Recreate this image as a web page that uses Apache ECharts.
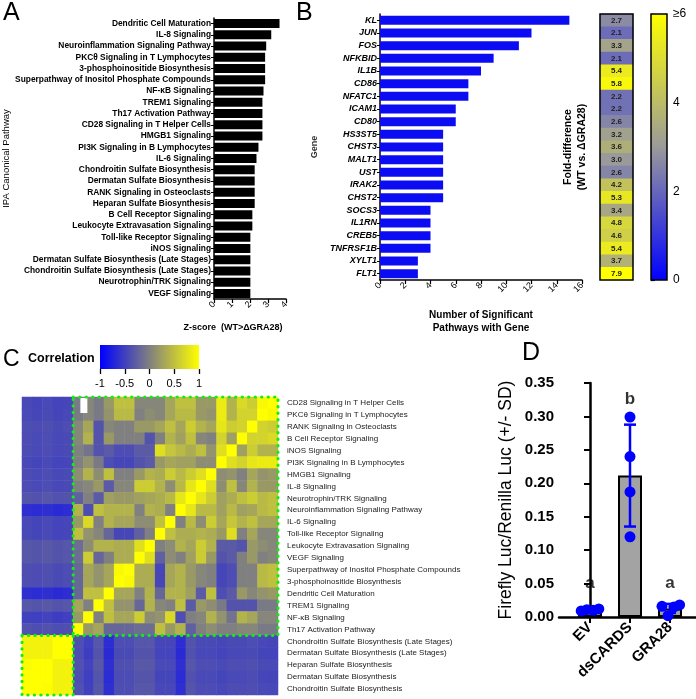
<!DOCTYPE html>
<html><head><meta charset="utf-8">
<script src="https://cdn.jsdelivr.net/npm/echarts@6/dist/echarts.min.js"></script>
<style>html,body{margin:0;padding:0;background:#fff}#c{width:696px;height:699px}</style>
</head><body><div id="c"></div>
<script>
// ---------- DATA ----------
const pathwaysA = ['Dendritic Cell Maturation','IL-8 Signaling','Neuroinflammation Signaling Pathway','PKCθ Signaling in T Lymphocytes','3-phosphoinositide Biosynthesis','Superpathway of Inositol Phosphate Compounds','NF-κB Signaling','TREM1 Signaling','Th17 Activation Pathway','CD28 Signaling in T Helper Cells','HMGB1 Signaling','PI3K Signaling in B Lymphocytes','IL-6 Signaling','Chondroitin Sulfate Biosynthesis','Dermatan Sulfate Biosynthesis','RANK Signaling in Osteoclasts','Heparan Sulfate Biosynthesis','B Cell Receptor Signaling','Leukocyte Extravasation Signaling','Toll-like Receptor Signaling','iNOS Signaling','Dermatan Sulfate Biosynthesis (Late Stages)','Chondroitin Sulfate Biosynthesis (Late Stages)','Neurotrophin/TRK Signaling','VEGF Signaling'];
const zScores = [3.64,3.18,2.90,2.84,2.84,2.84,2.75,2.69,2.69,2.69,2.69,2.47,2.36,2.26,2.26,2.26,2.26,2.13,2.13,2.02,2.02,2.02,2.02,2.02,2.02];

const genes = ['KL','JUN','FOS','NFKBID','IL1B','CD86','NFATC1','ICAM1','CD80','HS3ST5','CHST3','MALT1','UST','IRAK2','CHST2','SOCS3','IL1RN','CREB5','TNFRSF1B','XYLT1','FLT1'];
const geneCounts = [15,12,11,9,8,7,7,6,6,5,5,5,5,5,5,4,4,4,4,3,3];
const foldDiff = [2.7,2.1,3.3,2.1,5.4,5.8,2.2,2.2,2.6,3.2,3.6,3.0,2.6,4.2,5.3,3.4,4.8,4.6,5.4,3.7,7.9];

const corrPathways = ['CD28 Signaling in T Helper Cells','PKCθ Signaling in T Lymphocytes','RANK Signaling in Osteoclasts','B Cell Receptor Signaling','iNOS Signaling','PI3K Signaling in B Lymphocytes','HMGB1 Signaling','IL-8 Signaling','Neurotrophin/TRK Signaling','Neuroinflammation Signaling Pathway','IL-6 Signaling','Toll-like Receptor Signaling','Leukocyte Extravasation Signaling','VEGF Signaling','Superpathway of Inositol Phosphate Compounds','3-phosphoinositide Biosynthesis','Dendritic Cell Maturation','TREM1 Signaling','NF-κB Signaling','Th17 Activation Pathway','Chondroitin Sulfate Biosynthesis (Late Stages)','Dermatan Sulfate Biosynthesis (Late Stages)','Heparan Sulfate Biosynthesis','Dermatan Sulfate Biosynthesis','Chondroitin Sulfate Biosynthesis'];
// upper triangle: corrUpper[i] = correlations of pathway i with pathways i+1 .. 24
const corrUpper = [
 [0.95,0.6,0.7,0.4,0.85,0.2,0.2,0.5,0.5,0.3,0.05,0.05,0.05,0.5,0.5,0.2,-0.05,0.05,-0.05,-0.45,-0.47,-0.43,-0.46,-0.44],
 [0.65,0.65,0.4,0.85,0.15,0.2,0.45,0.45,0.3,0.05,0.1,0.0,0.45,0.45,0.15,-0.05,0.05,-0.05,-0.44,-0.46,-0.42,-0.45,-0.43],
 [0.65,0.6,0.8,0.3,0.4,0.6,0.3,0.5,0.3,0.2,0.2,0.0,0.0,0.05,-0.35,0.3,0.05,-0.4,-0.42,-0.38,-0.41,-0.39],
 [0.25,0.65,0.0,0.05,0.5,0.25,0.4,0.0,-0.35,0.0,0.0,0.0,0.2,-0.35,0.4,0.05,-0.42,-0.44,-0.4,-0.43,-0.41],
 [0.75,0.15,0.5,0.35,0.45,0.55,0.75,-0.3,-0.3,-0.4,-0.4,-0.3,-0.35,-0.1,0.0,-0.42,-0.44,-0.4,-0.43,-0.41],
 [0.1,0.1,0.25,0.25,0.3,0.2,-0.3,-0.35,-0.45,-0.45,-0.4,-0.05,0.15,0.0,-0.45,-0.47,-0.43,-0.46,-0.44],
 [0.75,0.6,0.45,0.6,0.35,0.4,0.2,0.0,0.0,0.5,0.1,0.4,0.1,-0.42,-0.44,-0.4,-0.43,-0.41],
 [0.8,0.45,0.1,0.4,0.6,0.6,0.05,0.05,-0.3,0.2,0.05,0.0,-0.42,-0.44,-0.4,-0.43,-0.41],
 [0.8,0.45,0.35,0.3,0.25,0.2,0.2,0.25,-0.3,0.0,-0.25,-0.35,-0.37,-0.33,-0.36,-0.34],
 [0.0,0.35,0.4,0.0,0.4,0.4,0.4,0.5,-0.4,0.4,-0.65,-0.67,-0.63,-0.66,-0.64],
 [0.5,0.1,0.1,0.3,0.3,0.4,0.0,0.7,0.2,-0.45,-0.47,-0.43,-0.46,-0.44],
 [0.0,-0.25,-0.45,-0.45,-0.2,0.05,0.15,0.5,-0.45,-0.47,-0.43,-0.46,-0.44],
 [0.75,0.35,0.35,0.4,0.4,0.1,-0.15,-0.33,-0.35,-0.31,-0.34,-0.32],
 [0.35,0.35,0.0,-0.2,0.6,-0.15,-0.33,-0.35,-0.31,-0.34,-0.32],
 [0.95,0.3,0.15,0.3,-0.2,-0.4,-0.42,-0.38,-0.41,-0.39],
 [0.3,0.15,0.3,-0.2,-0.4,-0.42,-0.38,-0.41,-0.39],
 [0.5,0.5,-0.2,-0.65,-0.67,-0.63,-0.66,-0.64],
 [0.0,0.3,-0.33,-0.35,-0.31,-0.34,-0.32],
 [0.2,-0.5,-0.52,-0.48,-0.51,-0.49],
 [-0.38,-0.4,-0.36,-0.39,-0.37],
 [1.0,0.9,0.9,0.9],
 [0.9,0.9,0.9],
 [1.0,0.98],
 [1.0],
 []
];
const corrTicks = [-1,-0.5,0,0.5,1];

const groupsD = ['EV','dsCARDS','GRA28'];
const meansD = [0.0105,0.2115,0.0128];
const sdD = [0.0013,0.0762,0.0068];
const dotsD = [[0.009,0.011,0.010,0.012],[0.299,0.240,0.187,0.120],[0.016,0.002,0.015,0.018]];
const lettersD = ['a','b','a'];
const letterYD = [0.051,0.325,0.051];

// ---------- LAYOUT / STYLE ----------
const FONT = '"Liberation Sans", Arial, sans-serif';
const K = '#000';
const G = {
  A:{left:214,top:18,width:72,height:281},
  B:{left:380,top:14,width:202,height:266},
  BH:{left:600,top:14,width:33,height:266},
  BC:{left:651,top:14,width:16,height:266},
  C:{left:22,top:397,width:256,height:298},
  CC:{left:100,top:345,width:99,height:24},
  D:{left:559,top:383,width:137,height:234}
};
const dotJitter = [[-0.22,-0.08,0.08,0.22],[0,0,0,0],[-0.2,-0.05,0.1,0.24]];

const N = corrPathways.length;
const M = [];
for (let i=0;i<N;i++){ M.push(new Array(N).fill(0)); M[i][i]=1; }
for (let i=0;i<N;i++) corrUpper[i].forEach((v,t)=>{ const k=i+1+t; M[i][k]=v; M[k][i]=v; });
const colNames = corrPathways.slice().reverse();
const corrData = [];
for (let i=0;i<N;i++) for (let j=0;j<N;j++) corrData.push([j,i,M[i][N-1-j]]);

const gridList = ['A','B','BH','BC','C','CC','D'].map(k=>Object.assign({outerBoundsMode:'none',containLabel:false,show:false},G[k]));
const ax = (o)=>Object.assign({splitLine:{show:false}},o);
const line = (w)=>({show:true,lineStyle:{color:K,width:w}});

const chart = echarts.init(document.getElementById('c'),null,{renderer:'canvas'});
chart.setOption({
  animation:false,
  backgroundColor:'#fff',
  textStyle:{fontFamily:FONT},
  grid:gridList,
  xAxis:[
    ax({gridIndex:0,type:'value',min:0,max:4,interval:1,axisLine:line(1.5),axisTick:{show:true,length:4,lineStyle:{color:K,width:1.2}},
       axisLabel:{rotate:45,fontSize:9,color:K,margin:4,fontFamily:FONT},
       name:'Z-score  (WT>ΔGRA28)',nameLocation:'middle',nameGap:24,nameTextStyle:{fontSize:9,fontWeight:'bold',color:K,fontFamily:FONT,padding:[0,34,0,0]}}),
    ax({gridIndex:1,type:'value',min:0,max:16,interval:2,axisLine:line(1.5),axisTick:{show:true,length:4,lineStyle:{color:K,width:1.2}},
       axisLabel:{rotate:45,fontSize:9,color:K,margin:4,fontFamily:FONT},
       name:'Number of Significant\nPathways with Gene',nameLocation:'middle',nameGap:29,nameTextStyle:{fontSize:10,fontWeight:'bold',color:K,lineHeight:13,fontFamily:FONT}}),
    ax({gridIndex:2,type:'category',data:['fold'],show:false}),
    ax({gridIndex:3,type:'value',min:0,max:1,show:false}),
    ax({gridIndex:4,type:'category',data:colNames,show:false}),
    ax({gridIndex:5,type:'value',min:-1,max:1,interval:0.5,axisLine:{show:false},axisTick:{show:true,length:5,lineStyle:{color:K,width:1.3}},
       axisLabel:{fontSize:11,color:K,margin:9,fontFamily:FONT}}),
    ax({gridIndex:6,type:'value',min:-0.775,max:2.65,axisLine:line(2.5),
       axisTick:{show:true,customValues:[0,1,2],length:6,lineStyle:{color:K,width:2}},
       axisLabel:{customValues:[0,1,2],formatter:v=>groupsD[Math.round(v)],rotate:45,fontSize:15,fontWeight:'bold',color:K,margin:8,fontFamily:FONT}})
  ],
  yAxis:[
    ax({gridIndex:0,type:'category',data:pathwaysA,inverse:true,axisLine:line(1.5),axisTick:{show:true,alignWithLabel:true,length:3,lineStyle:{color:K,width:1}},
       axisLabel:{interval:0,fontSize:8.4,fontWeight:'bold',color:K,margin:3,fontFamily:FONT},
       name:'IPA Canonical Pathway',nameLocation:'middle',nameGap:202,nameTextStyle:{fontSize:9.5,color:K,fontFamily:FONT}}),
    ax({gridIndex:1,type:'category',data:genes,inverse:true,axisLine:line(1.5),axisTick:{show:true,alignWithLabel:true,length:3,lineStyle:{color:K,width:1}},
       axisLabel:{interval:0,fontSize:9,fontWeight:'bold',fontStyle:'italic',color:K,margin:3,fontFamily:FONT},
       name:'Gene',nameLocation:'middle',nameGap:61,nameTextStyle:{fontSize:9,fontWeight:'bold',color:'#333',fontFamily:FONT}}),
    ax({gridIndex:2,type:'category',data:genes,inverse:true,axisLine:{show:false},axisTick:{show:false},axisLabel:{show:false},
       name:'Fold-difference\n(WT vs. ΔGRA28)',nameLocation:'middle',nameGap:11,nameTextStyle:{fontSize:10.5,fontWeight:'bold',color:K,lineHeight:14,fontFamily:FONT}}),
    ax({gridIndex:3,type:'value',min:0,max:6,interval:2,position:'right',axisLine:{show:false},axisTick:{show:true,length:4,lineStyle:{color:K,width:1.2}},
       axisLabel:{fontSize:12,color:K,margin:6,formatter:v=>v===6?'≥6':String(v),fontFamily:FONT}}),
    ax({gridIndex:4,type:'category',data:corrPathways,inverse:true,position:'right',axisLine:{show:false},axisTick:{show:false},
       axisLabel:{interval:0,fontSize:8,color:'#222',margin:9,fontFamily:FONT}}),
    ax({gridIndex:5,type:'value',min:0,max:1,show:false}),
    ax({gridIndex:6,type:'value',min:0,max:0.35,interval:0.05,axisLine:line(2.5),axisTick:{show:true,length:6,lineStyle:{color:K,width:2}},
       axisLabel:{fontSize:15,fontWeight:'bold',color:K,margin:5,formatter:v=>v.toFixed(2),fontFamily:FONT},
       name:'Firefly Luc/Renilla Luc (+/- SD)',nameLocation:'middle',nameGap:44,nameTextStyle:{fontSize:17.5,color:K,fontFamily:FONT}})
  ],
  visualMap:[
    {type:'continuous',seriesIndex:2,min:0,max:6,show:false,inRange:{color:['#0000ff','#9a9a9a','#ffff00']}},
    {type:'continuous',seriesIndex:3,min:-1,max:1,show:false,inRange:{color:['#0000ff','#808080','#ffff00']}}
  ],
  series:[
    {type:'bar',xAxisIndex:0,yAxisIndex:0,data:zScores,barWidth:9,itemStyle:{color:'#000'},silent:true},
    {type:'bar',xAxisIndex:1,yAxisIndex:1,data:geneCounts,barWidth:9,itemStyle:{color:'#0c0cf2'},silent:true},
    {type:'heatmap',xAxisIndex:2,yAxisIndex:2,data:foldDiff.map((v,i)=>[0,i,v]),silent:true,
     label:{show:true,formatter:p=>p.value[2].toFixed(1),fontSize:8,fontWeight:'bold',color:'#222',fontFamily:FONT}},
    {type:'heatmap',xAxisIndex:4,yAxisIndex:4,data:corrData,silent:true},
    {type:'bar',xAxisIndex:6,yAxisIndex:6,data:meansD.map((m,i)=>[i,m]),barWidth:24,itemStyle:{color:'#a3a3a3',borderColor:'#000',borderWidth:2},silent:true},
    {type:'custom',xAxisIndex:6,yAxisIndex:6,silent:true,z:5,data:meansD.map((m,i)=>[i,m,sdD[i]]),
     renderItem:(params,api)=>{
       const x=api.value(0),m=api.value(1),s=api.value(2);
       const t=api.coord([x,m+s]),b=api.coord([x,m-s]);const h=6;
       const st={stroke:'#0000ff',lineWidth:2.5};
       return {type:'group',children:[
         {type:'line',shape:{x1:t[0],y1:t[1],x2:b[0],y2:b[1]},style:st},
         {type:'line',shape:{x1:t[0]-h,y1:t[1],x2:t[0]+h,y2:t[1]},style:st},
         {type:'line',shape:{x1:b[0]-h,y1:b[1],x2:b[0]+h,y2:b[1]},style:st}]};
     }},
    {type:'scatter',xAxisIndex:6,yAxisIndex:6,silent:true,z:6,symbolSize:11,itemStyle:{color:'#0000ff',opacity:1},
     data:dotsD.flatMap((arr,g)=>arr.map((v,k)=>[g+dotJitter[g][k],v]))},
    {type:'scatter',xAxisIndex:6,yAxisIndex:6,silent:true,z:7,symbolSize:1,itemStyle:{color:'rgba(0,0,0,0)'},
     data:letterYD.map((y,i)=>[i,y]),
     label:{show:true,position:'inside',formatter:p=>lettersD[p.dataIndex],fontSize:17,fontWeight:'bold',color:'#000',fontFamily:FONT}}
  ]
});

// ---------- decorations (legend bars, boxes, panel letters) ----------
const C = G.C, cw = C.width/N, rh = C.height/N;
const dotted = {fill:null,stroke:'#11ee11',lineWidth:3.2,lineDash:[0.1,6.4],lineCap:'round'};
chart.setOption({graphic:[
  {type:'text',left:3,top:1,style:{text:'A',fontSize:25,fill:K,fontFamily:FONT}},
  {type:'text',left:296,top:1,style:{text:'B',fontSize:25,fill:K,fontFamily:FONT}},
  {type:'text',left:3,top:348,style:{text:'C',fontSize:23,fill:K,fontFamily:FONT}},
  {type:'text',left:522,top:341,style:{text:'D',fontSize:25,fill:K,fontFamily:FONT}},
  {type:'text',left:28,top:352,style:{text:'Correlation',fontSize:12.5,fontWeight:'bold',fill:K,fontFamily:FONT}},
  {type:'rect',shape:{x:G.BC.left,y:G.BC.top,width:G.BC.width,height:G.BC.height},z:10,
   style:{fill:new echarts.graphic.LinearGradient(0,0,0,1,[{offset:0,color:'#ffff00'},{offset:0.5,color:'#9a9a9a'},{offset:1,color:'#0000ff'}]),stroke:K,lineWidth:1.5}},
  {type:'rect',shape:{x:G.BH.left,y:G.BH.top,width:G.BH.width,height:G.BH.height},z:10,style:{fill:null,stroke:K,lineWidth:1.5}},
  {type:'rect',shape:{x:G.CC.left,y:G.CC.top,width:G.CC.width,height:G.CC.height},z:10,
   style:{fill:new echarts.graphic.LinearGradient(0,0,1,0,[{offset:0,color:'#0000ff'},{offset:0.5,color:'#808080'},{offset:1,color:'#ffff00'}])}},
  {type:'rect',shape:{x:C.left+5*cw,y:C.top,width:C.width-5*cw,height:20*rh},z:20,style:dotted},
  {type:'rect',shape:{x:C.left,y:C.top+20*rh,width:5*cw,height:5*rh},z:20,style:dotted},
  {type:'rect',shape:{x:C.left+5.7*cw,y:C.top+1,width:7,height:15},z:15,style:{fill:'#fff',stroke:null}}
]});
</script></body></html>
